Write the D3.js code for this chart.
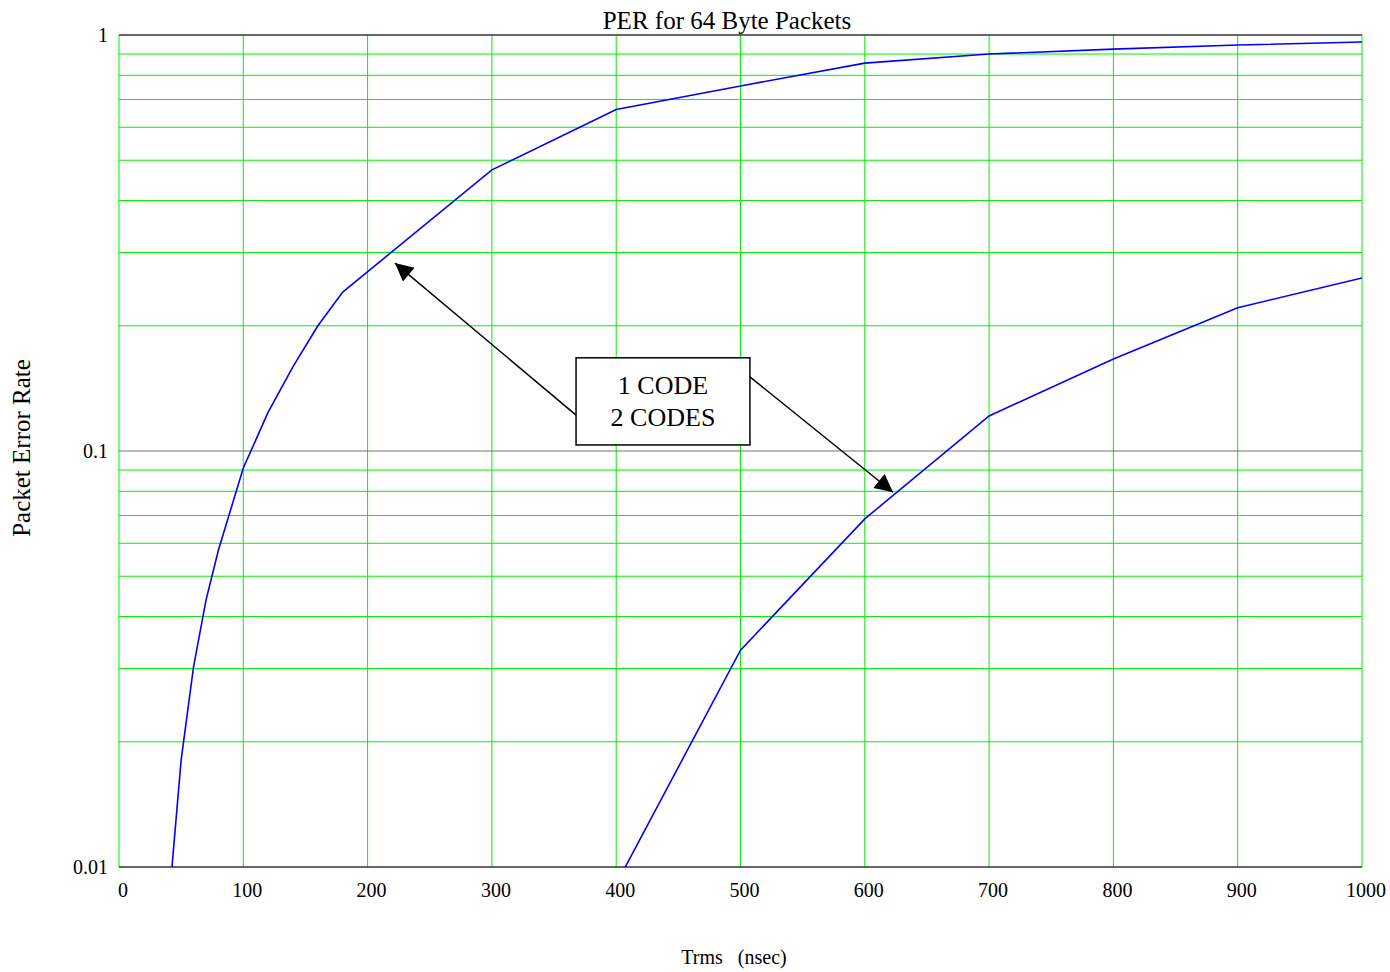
<!DOCTYPE html>
<html>
<head>
<meta charset="utf-8">
<script src="https://cdn.jsdelivr.net/npm/d3@7"></script>
<style>
  body { margin: 0; background: #fff; }
  text { font-family: "Liberation Serif", "Times New Roman", serif; fill: #000; }
</style>
</head>
<body>
<div id="chart"></div>
<script>
// Trms (nsec) vs packet error rate
const oneCodeX = [40, 50, 60, 70, 80, 100, 120, 140, 160, 180, 300, 400, 500, 600, 700, 800, 900, 1000];
const oneCodeY = [0.0081, 0.0181, 0.0303, 0.0438, 0.0578, 0.091, 0.124, 0.1595, 0.2, 0.241, 0.474, 0.662, 0.754, 0.856, 0.90, 0.925, 0.946, 0.962];
const twoCodeX = [400, 500, 600, 700, 800, 900, 1000];
const twoCodeY = [0.0091, 0.0332, 0.0687, 0.1214, 0.1664, 0.221, 0.2606];

const xTicks = [0, 100, 200, 300, 400, 500, 600, 700, 800, 900, 1000];
const yTicks = [0.01, 0.1, 1];
const yTickLabels = ["0.01", "0.1", "1"];

const W = 1390, H = 972;
const margin = { top: 35, right: 28, bottom: 105, left: 119 };
const w = W - margin.left - margin.right;
const h = H - margin.top - margin.bottom;

const svg = d3.select("#chart").append("svg")
  .attr("width", W).attr("height", H);

const g = svg.append("g")
  .attr("transform", `translate(${margin.left},${margin.top})`);

const x = d3.scaleLinear().domain([0, 1000]).range([0, w]);
const y = d3.scaleLog().domain([0.01, 1]).range([h, 0]);

// minor log grid (2..9 in each decade)
const minor = [];
for (const dec of [0.01, 0.1]) {
  for (let k = 2; k <= 9; k++) minor.push(dec * k);
}

const gridColor = "#00f000";

g.selectAll("line.hgrid")
  .data(minor)
  .join("line")
  .attr("class", "hgrid")
  .attr("x1", 0).attr("x2", w)
  .attr("y1", d => y(d)).attr("y2", d => y(d))
  .attr("stroke", gridColor).attr("stroke-width", 1);

g.selectAll("line.vgrid")
  .data(xTicks)
  .join("line")
  .attr("class", "vgrid")
  .attr("x1", d => x(d)).attr("x2", d => x(d))
  .attr("y1", 0).attr("y2", h)
  .attr("stroke", gridColor).attr("stroke-width", 1);

// decade line at 0.1
g.append("line")
  .attr("x1", 0).attr("x2", w)
  .attr("y1", y(0.1)).attr("y2", y(0.1))
  .attr("stroke", "#707070").attr("stroke-width", 1);

// top and bottom frame
g.append("line").attr("x1", 0).attr("x2", w).attr("y1", 0).attr("y2", 0)
  .attr("stroke", "#333").attr("stroke-width", 1.5);
g.append("line").attr("x1", 0).attr("x2", w).attr("y1", h).attr("y2", h)
  .attr("stroke", "#333").attr("stroke-width", 1.5);

// curves
const defs = svg.append("defs");
defs.append("clipPath").attr("id", "plotclip")
  .append("rect").attr("width", w).attr("height", h);

const line = d3.line()
  .x(d => x(d[0]))
  .y(d => y(d[1]));

const series = [
  d3.zip(oneCodeX, oneCodeY),
  d3.zip(twoCodeX, twoCodeY)
];

g.append("g").attr("clip-path", "url(#plotclip)")
  .selectAll("path.curve")
  .data(series)
  .join("path")
  .attr("class", "curve")
  .attr("d", line)
  .attr("fill", "none")
  .attr("stroke", "#0000ff")
  .attr("stroke-width", 1.6);

// tick labels
g.selectAll("text.xtick")
  .data(xTicks)
  .join("text")
  .attr("class", "xtick")
  .attr("x", d => x(d) + 4)
  .attr("y", h + 30)
  .attr("text-anchor", "middle")
  .attr("font-size", 20)
  .text(d => d);

g.selectAll("text.ytick")
  .data(yTicks)
  .join("text")
  .attr("class", "ytick")
  .attr("x", -11)
  .attr("y", d => y(d))
  .attr("dy", "0.35em")
  .attr("text-anchor", "end")
  .attr("font-size", 20)
  .text((d, i) => yTickLabels[i]);

// titles
svg.append("text")
  .attr("x", 727).attr("y", 29)
  .attr("text-anchor", "middle")
  .attr("font-size", 25)
  .text("PER for 64 Byte Packets");

svg.append("text")
  .attr("x", 734).attr("y", 964)
  .attr("text-anchor", "middle")
  .attr("font-size", 20)
  .style("white-space", "pre")
  .text("Trms   (nsec)");

svg.append("text")
  .attr("transform", "translate(30,448) rotate(-90)")
  .attr("text-anchor", "middle")
  .attr("font-size", 25)
  .text("Packet Error Rate");

// annotation: box with arrows, positioned in data coordinates
const box = { x0: 367.7, x1: 507.6, yTop: 0.1675, yBot: 0.1034 };
const arrows = [
  { from: [367.7, 0.122], to: [222, 0.283] },
  { from: [507.6, 0.1507], to: [622.7, 0.0796] }
];

defs.append("marker")
  .attr("id", "head")
  .attr("viewBox", "0 0 10 10")
  .attr("refX", 10).attr("refY", 5)
  .attr("markerWidth", 24).attr("markerHeight", 18)
  .attr("markerUnits", "userSpaceOnUse")
  .attr("orient", "auto")
  .append("path")
  .attr("d", "M0,0 L10,5 L0,10 Z")
  .attr("fill", "#000");

g.selectAll("line.arrow")
  .data(arrows)
  .join("line")
  .attr("class", "arrow")
  .attr("x1", d => x(d.from[0])).attr("y1", d => y(d.from[1]))
  .attr("x2", d => x(d.to[0])).attr("y2", d => y(d.to[1]))
  .attr("stroke", "#000").attr("stroke-width", 1.5)
  .attr("marker-end", "url(#head)");

g.append("rect")
  .attr("x", x(box.x0)).attr("y", y(box.yTop))
  .attr("width", x(box.x1) - x(box.x0))
  .attr("height", y(box.yBot) - y(box.yTop))
  .attr("fill", "#fff")
  .attr("stroke", "#000").attr("stroke-width", 1.5);

const cx = (x(box.x0) + x(box.x1)) / 2;
g.append("text")
  .attr("x", cx).attr("y", y(box.yTop) + 36)
  .attr("text-anchor", "middle").attr("font-size", 26)
  .text("1 CODE");
g.append("text")
  .attr("x", cx).attr("y", y(box.yTop) + 68)
  .attr("text-anchor", "middle").attr("font-size", 26)
  .text("2 CODES");
</script>
</body>
</html>
